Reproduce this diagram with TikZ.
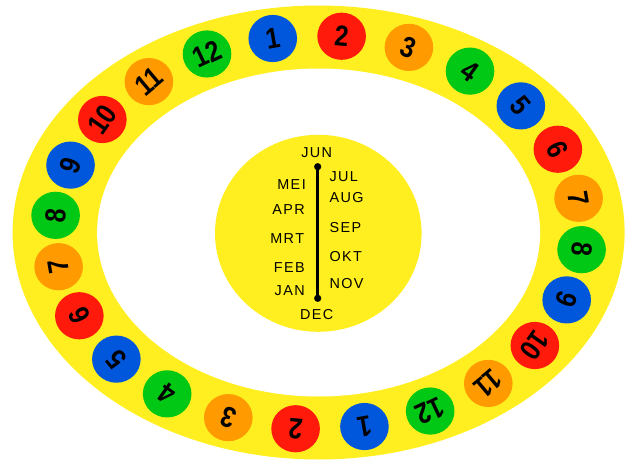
\documentclass[tikz,border=0pt]{standalone}
\usepackage{fontspec}
\setmainfont{Liberation Sans}
\newfontfamily\digitfont[FakeStretch=0.86]{Liberation Sans}
\definecolor{ringyellow}{HTML}{FFEF20}
\definecolor{col0}{HTML}{0057DC}
\definecolor{col1}{HTML}{FF1A0C}
\definecolor{col2}{HTML}{FF9A00}
\definecolor{col3}{HTML}{00C814}
\tikzset{
  digit/.style={inner sep=0pt, text=black,
    font=\digitfont\bfseries\fontsize{29}{29}\selectfont},
  month/.style={inner sep=0pt, text=black,
    font=\fontsize{14.4}{14.4}\selectfont\addfontfeature{LetterSpace=10}},
}
\begin{document}
\begin{tikzpicture}[x=1pt,y=-1pt]
\useasboundingbox (0,0) rectangle (633,463);
% ring
\fill[ringyellow] (318.6,232.5) ellipse [x radius=306, y radius=227];
\fill[white] (318.6,232.5) ellipse [x radius=221.5, y radius=164];
% numbered discs
\foreach \k in {0,...,23}{
  \pgfmathsetmacro\t{100-15*\k}
  \pgfmathtruncatemacro\n{mod(\k,12)+1}
  \pgfmathtruncatemacro\c{mod(\k,4)}
  \pgfmathsetmacro\r{\t-90}
  \coordinate (p\k) at ({318.6+264*cos(\t)},{232.5-197*sin(\t)});
  \fill[col\c] (p\k) ellipse [x radius=24.3, y radius=23.6];
  \node[digit, rotate=\r] (c\k) at (p\k) {\n};
}
% central dial
\fill[ringyellow] (318.3,233.3) ellipse [x radius=103.3, y radius=98.5];
\coordinate (top) at (317.7,166.7);
\coordinate (bot) at (317.7,298.3);
\draw[line width=3.3pt] (top) -- (bot);
\fill (top) circle (3.6);
\fill (bot) circle (3.6);
% months
\node[month] (jun) at (316.7,152.7) {JUN};
\node[month] (dec) at (316.7,314.3) {DEC};
\node[month, anchor=east] (mei) at (306,184.3) {MEI};
\node[month, anchor=east] (apr) at (305,209.3) {APR};
\node[month, anchor=east] (mrt) at (304.3,238.3) {MRT};
\node[month, anchor=east] (feb) at (305,267.7) {FEB};
\node[month, anchor=east] (jan) at (305,291) {JAN};
\node[month, anchor=west] (jul) at (329.3,176.7) {JUL};
\node[month, anchor=west] (aug) at (329.3,197.7) {AUG};
\node[month, anchor=west] (sep) at (329.3,227.7) {SEP};
\node[month, anchor=west] (okt) at (329.3,256.7) {OKT};
\node[month, anchor=west] (nov) at (329.3,284) {NOV};
\end{tikzpicture}
\end{document}
